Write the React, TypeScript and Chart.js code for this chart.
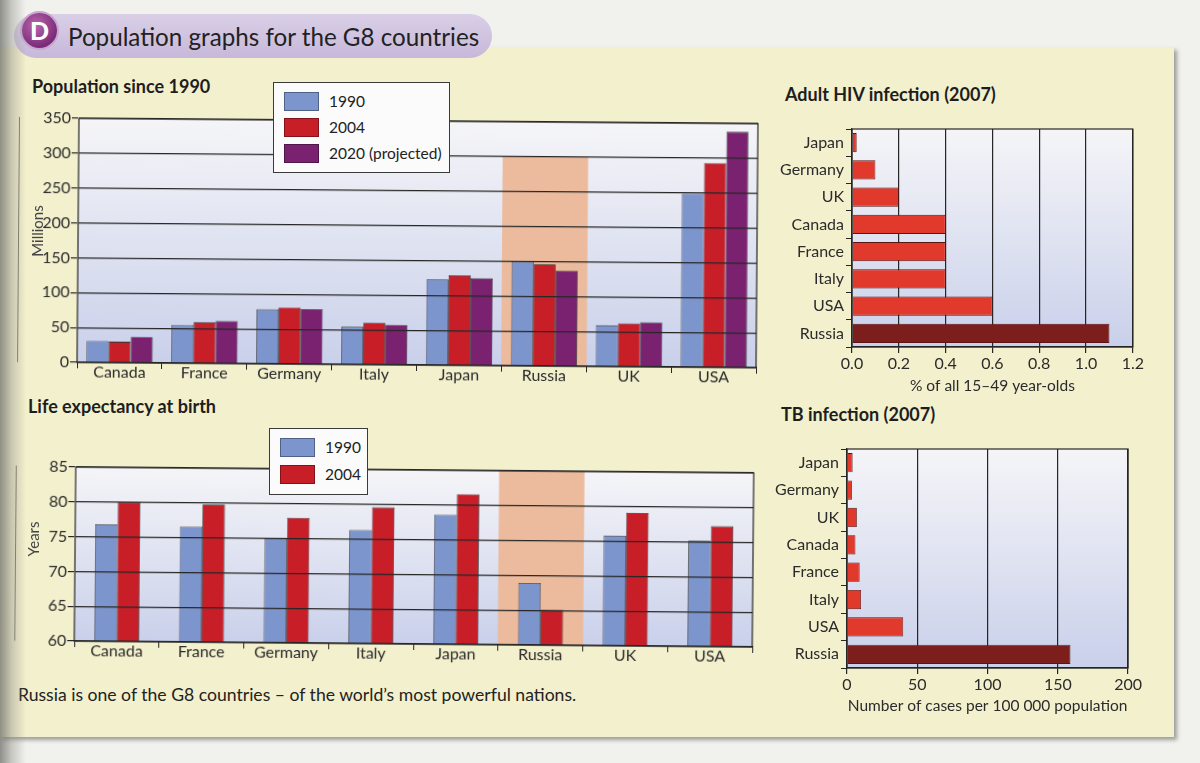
import React, { useEffect, useRef } from 'react';
import { Chart, registerables } from 'chart.js';

Chart.register(...registerables);

const FONT = 'Lato, "Open Sans", sans-serif';
Chart.defaults.font.family = FONT;
Chart.defaults.color = '#2b2b2b';

// ---------- data ----------
const countries = ['Canada', 'France', 'Germany', 'Italy', 'Japan', 'Russia', 'UK', 'USA'];
const popSeriesLabels = ['1990', '2004', '2020 (projected)'];
const pop1990 = [31, 55, 78, 54, 123, 150, 59, 249];
const pop2004 = [30, 59, 81, 60, 129, 146, 62, 293];
const pop2020 = [37, 61, 79, 57, 125, 137, 64, 338];
const popHighlight = [null, null, null, null, null, 300, null, null];

const lifeSeriesLabels = ['1990', '2004'];
const life1990 = [76.8, 76.6, 75.0, 76.3, 78.6, 68.9, 75.8, 75.2];
const life2004 = [80.0, 79.8, 78.0, 79.6, 81.6, 65.1, 79.1, 77.3];
const lifeHighlight = [null, null, null, null, null, 85, null, null];

const infCountries = ['Japan', 'Germany', 'UK', 'Canada', 'France', 'Italy', 'USA', 'Russia'];
const hivValues = [0.02, 0.1, 0.2, 0.4, 0.4, 0.4, 0.6, 1.1];
const tbValues = [4, 3.5, 7, 6, 9, 10, 40, 159];

// ---------- styles ----------
const C1990 = '#7d95cd';
const C2004 = '#c81e28';
const C2020 = '#7a2270';
const CHL = '#ecbb9d';
const CBAR = '#e2392d';
const CRUS = '#7c1f1c';
const LINE = '#262626';
const TXT = '#2b2b2b';

const plotFrame = {
  id: 'plotFrame',
  beforeDraw(chart: any) {
    const { ctx, chartArea: a } = chart;
    const g = ctx.createLinearGradient(0, a.top, 0, a.bottom);
    g.addColorStop(0, '#f5f5f8');
    g.addColorStop(1, '#c9d0ea');
    ctx.save();
    ctx.fillStyle = g;
    ctx.fillRect(a.left, a.top, a.right - a.left, a.bottom - a.top);
    ctx.restore();
  },
  afterDraw(chart: any) {
    const { ctx, chartArea: a } = chart;
    ctx.save();
    ctx.strokeStyle = LINE;
    ctx.lineWidth = 1.2;
    ctx.strokeRect(a.left, a.top, a.right - a.left, a.bottom - a.top);
    ctx.restore();
  },
};

const tickFont = { family: FONT, size: 16 };

function popConfig(): any {
  const ds = (label: string, data: number[], color: string) => ({
    label, data, backgroundColor: color, borderColor: '#333', borderWidth: 0.8, borderSkipped: 'bottom', order: 1,
  });
  return {
    type: 'bar',
    data: {
      labels: countries,
      datasets: [
        ds(popSeriesLabels[0], pop1990, C1990),
        ds(popSeriesLabels[1], pop2004, C2004),
        ds(popSeriesLabels[2], pop2020, C2020),
        { label: 'highlight', data: popHighlight, backgroundColor: CHL, borderWidth: 0, grouped: false, barPercentage: 1, categoryPercentage: 1, order: 9 },
      ],
    },
    options: {
      animation: false, responsive: false, maintainAspectRatio: false,
      layout: { padding: { top: 25, right: 3, left: 0, bottom: 0 } },
      datasets: { bar: { categoryPercentage: 0.78, barPercentage: 1 } },
      plugins: { legend: { display: false }, tooltip: { enabled: false } },
      scales: {
        x: {
          grid: { offset: true, drawOnChartArea: false, tickLength: 6, color: LINE, lineWidth: 1 },
          border: { display: true, color: LINE, width: 1.2 },
          ticks: { font: tickFont, color: TXT, padding: -6 },
          afterFit: (s: any) => { s.height = 31; },
        },
        y: {
          min: 0, max: 350,
          ticks: { stepSize: 50, font: tickFont, color: TXT, padding: 1 },
          grid: { color: LINE, lineWidth: 1.2, tickLength: 7, z: 1 },
          border: { display: true, color: LINE, width: 1.2 },
          afterFit: (s: any) => { s.width = 60; },
        },
      },
    },
    plugins: [plotFrame],
  };
}

function lifeConfig(): any {
  const ds = (label: string, data: number[], color: string) => ({
    label, data, backgroundColor: color, borderColor: '#333', borderWidth: 0.8, borderSkipped: 'bottom', order: 1,
  });
  return {
    type: 'bar',
    data: {
      labels: countries,
      datasets: [
        ds(lifeSeriesLabels[0], life1990, C1990),
        ds(lifeSeriesLabels[1], life2004, C2004),
        { label: 'highlight', data: lifeHighlight, backgroundColor: CHL, borderWidth: 0, grouped: false, barPercentage: 1, categoryPercentage: 1, order: 9 },
      ],
    },
    options: {
      animation: false, responsive: false, maintainAspectRatio: false,
      layout: { padding: { top: 20, right: 7, left: 0, bottom: 0 } },
      datasets: { bar: { categoryPercentage: 0.53, barPercentage: 1 } },
      plugins: { legend: { display: false }, tooltip: { enabled: false } },
      scales: {
        x: {
          grid: { offset: true, drawOnChartArea: false, tickLength: 6, color: LINE, lineWidth: 1 },
          border: { display: true, color: LINE, width: 1.2 },
          ticks: { font: tickFont, color: TXT, padding: -6 },
          afterFit: (s: any) => { s.height = 36; },
        },
        y: {
          min: 60, max: 85,
          ticks: { stepSize: 5, font: tickFont, color: TXT, padding: 1 },
          grid: { color: LINE, lineWidth: 1.2, tickLength: 7, z: 1 },
          border: { display: true, color: LINE, width: 1.2 },
          afterFit: (s: any) => { s.width = 60; },
        },
      },
    },
    plugins: [plotFrame],
  };
}

function hbarConfig(values: number[], max: number, step: number, title: string, dec: number, yWidth: number, xHeight: number, padRight: number): any {
  return {
    type: 'bar',
    data: {
      labels: infCountries,
      datasets: [{
        label: title,
        data: values,
        backgroundColor: infCountries.map((c) => (c === 'Russia' ? CRUS : CBAR)),
        borderColor: '#5a1512',
        borderWidth: 0.8,
        borderSkipped: 'left',
        categoryPercentage: 0.7,
        barPercentage: 1,
      }],
    },
    options: {
      indexAxis: 'y',
      animation: false, responsive: false, maintainAspectRatio: false,
      layout: { padding: { top: 19, right: padRight, left: 0, bottom: 0 } },
      plugins: { legend: { display: false }, tooltip: { enabled: false } },
      scales: {
        x: {
          min: 0, max,
          ticks: { stepSize: step, font: tickFont, color: TXT, padding: 1, callback: (v: any) => Number(v).toFixed(dec) },
          grid: { color: LINE, lineWidth: 1.2, tickLength: 6 },
          border: { display: true, color: LINE, width: 1.2 },
          title: { display: true, text: title, font: { family: FONT, size: 15.5 }, color: TXT, padding: { top: 0, bottom: 5 } },
          afterFit: (s: any) => { s.height = xHeight; },
        },
        y: {
          grid: { offset: true, drawOnChartArea: false, tickLength: 6, color: LINE, lineWidth: 1 },
          border: { display: true, color: LINE, width: 1.2 },
          ticks: { font: tickFont, color: TXT, padding: 2 },
          afterFit: (s: any) => { s.width = yWidth; },
        },
      },
    },
    plugins: [plotFrame],
  };
}

function ChartBox(props: { make: () => any; left: number; top: number; w: number; h: number; rotate?: number; origin?: string }) {
  const ref = useRef<HTMLCanvasElement>(null);
  useEffect(() => {
    const chart = new Chart(ref.current as HTMLCanvasElement, props.make());
    return () => chart.destroy();
  }, []);
  const { left, top, w, h, rotate = 0, origin = '50% 50%' } = props;
  return (
    <div style={{ position: 'absolute', left, top, width: w, height: h, transform: `rotate(${rotate}deg)`, transformOrigin: origin }}>
      <canvas ref={ref} width={w} height={h} style={{ width: w, height: h, display: 'block' }} />
    </div>
  );
}

function Legend(props: { left: number; top: number; width: number; height: number; labels: string[]; colors: string[]; step: number }) {
  const { left, top, width, height, labels, colors, step } = props;
  return (
    <div style={{ position: 'absolute', left, top, width, height, background: '#fbfbfb', border: '1.5px solid #3a3a3a', boxSizing: 'border-box', fontFamily: FONT, fontSize: 15.5, color: '#222', zIndex: 5 }}>
      {labels.map((lab, i) => (
        <div key={lab} style={{ position: 'absolute', left: 10, top: 8.5 + i * step, display: 'flex', alignItems: 'center', whiteSpace: 'nowrap' }}>
          <span style={{ display: 'inline-block', width: 35, height: 19, background: colors[i], border: '1px solid rgba(0,0,0,0.35)', boxSizing: 'border-box' }} />
          <span style={{ marginLeft: 10, lineHeight: '19px' }}>{lab}</span>
        </div>
      ))}
    </div>
  );
}

const abs = (left: number, top: number, extra: any = {}) => ({ position: 'absolute' as const, left, top, whiteSpace: 'nowrap' as const, ...extra });

export default function App() {
  const titleStyle = { fontFamily: FONT, fontWeight: 700, fontSize: 18, lineHeight: '18px', color: '#1e1e1e' };
  return (
    <div style={{ position: 'absolute', left: 0, top: 0, width: 1200, height: 763, overflow: 'hidden', background: '#f1f1ee' }}>
      {/* yellow panel */}
      <div style={{ position: 'absolute', left: 0, top: 47, width: 1174, height: 690, background: '#f3f0cd', boxShadow: '3px 3px 4px rgba(0,0,0,0.35)' }} />
      {/* header pill */}
      <div style={{ position: 'absolute', left: 14, top: 14, width: 478, height: 44, borderRadius: 22, background: 'linear-gradient(#d9cfe6, #c7b8da)' }} />
      <div style={{ position: 'absolute', left: 22, top: 13, width: 35, height: 35, borderRadius: 18, background: 'radial-gradient(circle at 40% 35%, #b866ac, #7c2b7a 70%)', boxShadow: '0 0 0 2px #c9a6cf', color: '#fff', fontFamily: FONT, fontWeight: 900, fontSize: 25, lineHeight: '35px', textAlign: 'center' }}>D</div>
      <div style={abs(68, 25, { fontFamily: FONT, fontSize: 24.2, lineHeight: '24px', color: '#222' })}>Population graphs for the G8 countries</div>

      {/* titles */}
      <div style={abs(32, 77, titleStyle)}>Population since 1990</div>
      <div style={abs(28, 397, titleStyle)}>Life expectancy at birth</div>
      <div style={abs(785, 85, titleStyle)}>Adult HIV infection (2007)</div>
      <div style={abs(781, 405, titleStyle)}>TB infection (2007)</div>

      {/* charts */}
      <ChartBox make={popConfig} left={18} top={96} w={742} h={300} rotate={0.45} origin="399px 147px" />
      <ChartBox make={lifeConfig} left={15} top={450} w={745} h={230} rotate={0.5} origin="399px 107px" />
      <ChartBox make={() => hbarConfig(hivValues, 1.2, 0.2, '% of all 15–49 year-olds', 1, 82, 53, 12)} left={770} top={110} w={375} h={290} />
      <ChartBox make={() => hbarConfig(tbValues, 200, 50, 'Number of cases per 100 000 population', 0, 79, 52, 14)} left={768} top={430} w={375} h={290} />

      {/* y axis titles */}
      <div style={abs(37, 231, { fontFamily: FONT, fontSize: 15, lineHeight: '15px', color: '#444', transform: 'translate(-50%, -50%) rotate(-90deg)' })}>Millions</div>
      <div style={abs(33, 539, { fontFamily: FONT, fontSize: 15, lineHeight: '15px', color: '#444', transform: 'translate(-50%, -50%) rotate(-90deg)' })}>Years</div>

      {/* legends */}
      <Legend left={273} top={82} width={177} height={91} labels={popSeriesLabels} colors={[C1990, C2004, C2020]} step={26} />
      <Legend left={269} top={428} width={99} height={67} labels={lifeSeriesLabels} colors={[C1990, C2004]} step={27} />

      {/* caption */}
      <div style={abs(18, 686, { fontFamily: FONT, fontSize: 17.6, lineHeight: '18px', color: '#222' })}>Russia is one of the G8 countries – of the world’s most powerful nations.</div>

      {/* book gutter shading */}
      <div style={{ position: 'absolute', left: 0, top: 0, width: 26, height: 763, background: 'linear-gradient(to right, rgba(110,110,105,0.75), rgba(150,150,140,0.45) 45%, rgba(200,200,190,0) 100%)', zIndex: 10 }} />
    </div>
  );
}
